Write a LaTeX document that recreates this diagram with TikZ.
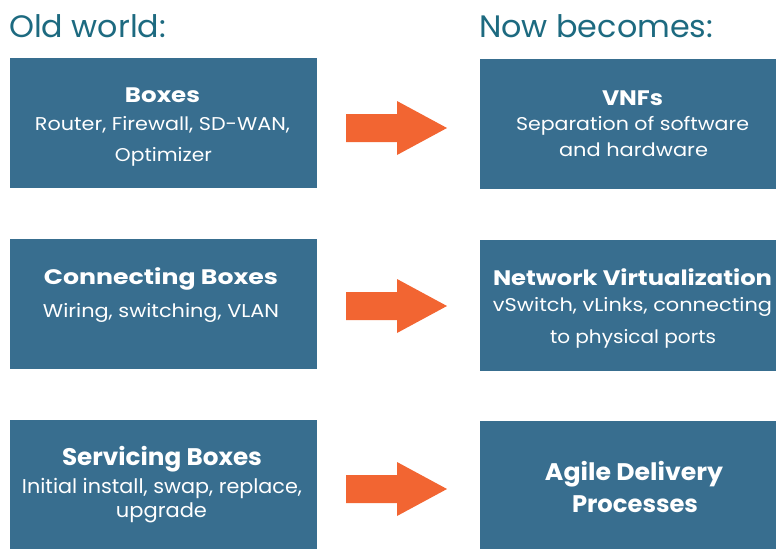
\documentclass[tikz,border=0pt]{standalone}
\usepackage{fontspec}
\setmainfont{Poppins}
\definecolor{boxblue}{HTML}{386E8F}
\definecolor{titleteal}{HTML}{1D6A80}
\definecolor{arroworange}{HTML}{F26532}
\newcommand{\fitw}[2]{\resizebox{#1pt}{\height}{#2}}
\begin{document}
\begin{tikzpicture}[x=1pt,y=-1pt,
  panel/.style={fill=boxblue,draw=none},
  head/.style={anchor=base,text=white,font=\fontsize{21}{21}\selectfont\bfseries,inner sep=0},
  sub/.style={anchor=base,text=white,font=\fontsize{18.5}{18.5}\selectfont,inner sep=0},
  headb/.style={anchor=base,text=white,font=\fontsize{24}{24}\selectfont\bfseries,inner sep=0},
  subb/.style={anchor=base,text=white,font=\fontsize{20}{20}\selectfont,inner sep=0},
  title/.style={anchor=base west,text=titleteal,font=\fontsize{31}{31}\selectfont,inner sep=0},
  blockarrow/.style={fill=arroworange,draw=none}]
\useasboundingbox (0,0) rectangle (776,549);
% titles
\node[title] (t1) at (9,37) {\fitw{157}{Old world:}};
\node[title] (t2) at (479,37) {\fitw{234}{Now becomes:}};
% boxes
\path[panel] (10,58) rectangle (317,188);
\path[panel] (480,59) rectangle (776,189);
\path[panel] (10,239) rectangle (317,369);
\path[panel] (480,240) rectangle (776,371);
\path[panel] (10,420) rectangle (317,549);
\path[panel] (480,421) rectangle (776,549);
% texts left
\node[head] (a1) at (162.5,102) {\fitw{75}{Boxes}};
\node[sub] (a2) at (162.5,130) {\fitw{255}{Router, Firewall, SD-WAN,}};
\node[sub] (a3) at (163.5,161) {\fitw{97}{Optimizer}};
\node[head] (b1) at (161,284) {\fitw{234}{Connecting Boxes}};
\node[sub] (b2) at (161,317) {\fitw{236}{Wiring, switching, VLAN}};
\node[headb] (c1) at (162,465) {\fitw{200}{Servicing Boxes}};
\node[subb] (c2) at (162,493) {\fitw{280}{Initial install, swap, replace,}};
\node[subb] (c3) at (161.5,517) {\fitw{91}{upgrade}};
% texts right
\node[head] (d1) at (632.5,105) {\fitw{61}{VNFs}};
\node[sub] (d2) at (632.5,130) {\fitw{233}{Separation of software}};
\node[sub] (d3) at (633.5,156) {\fitw{149}{and hardware}};
\node[head] (e1) at (632.5,285) {\fitw{279}{Network Virtualization}};
\node[sub] (e2) at (632.5,311) {\fitw{279}{vSwitch, vLinks, connecting}};
\node[sub] (e3) at (633,343) {\fitw{166}{to physical ports}};
\node[headb] (f1) at (634,480) {\fitw{178}{Agile Delivery}};
\node[headb] (f2) at (635,512) {\fitw{126}{Processes}};
% arrows
\foreach \yc in {128,306,489}{
  \path[blockarrow] (346,\yc-14) -- (397,\yc-14) -- (397,\yc-27) -- (447,\yc) -- (397,\yc+27) -- (397,\yc+14) -- (346,\yc+14) -- cycle;
}
\end{tikzpicture}
\end{document}
